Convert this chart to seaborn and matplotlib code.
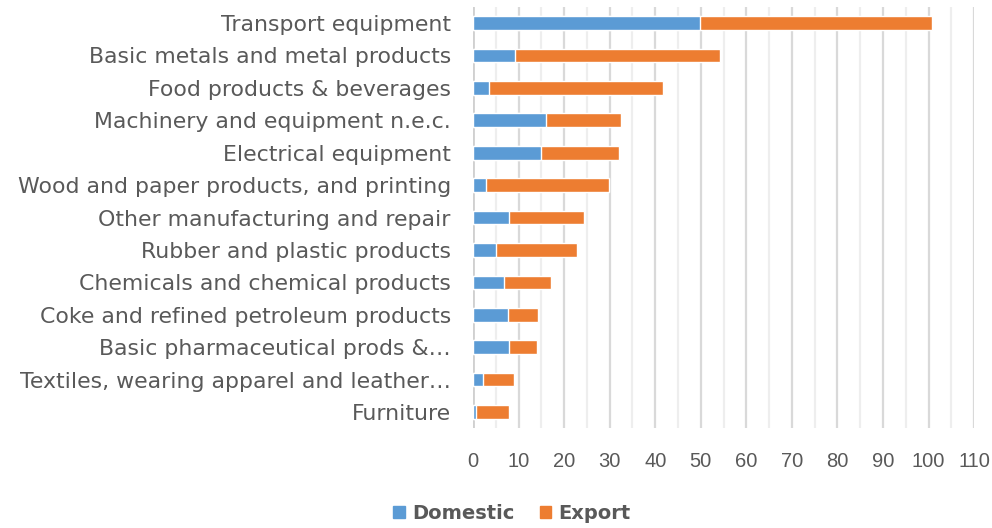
import matplotlib
matplotlib.use("Agg")
import matplotlib.pyplot as plt
from matplotlib.patches import Patch
from matplotlib.ticker import MultipleLocator
import seaborn as sns
import pandas as pd

sectors = [
    "Transport equipment",
    "Basic metals and metal products",
    "Food products & beverages",
    "Machinery and equipment n.e.c.",
    "Electrical equipment",
    "Wood and paper products, and printing",
    "Other manufacturing and repair",
    "Rubber and plastic products",
    "Chemicals and chemical products",
    "Coke and refined petroleum products",
    "Basic pharmaceutical prods &\u2026",
    "Textiles, wearing apparel and leather\u2026",
    "Furniture",
]
domestic = [49.8, 9.3, 3.5, 16.1, 15.0, 2.9, 8.0, 5.0, 6.7, 7.6, 8.0, 2.1, 0.7]
export = [50.9, 44.9, 38.2, 16.3, 17.1, 26.9, 16.3, 17.8, 10.5, 6.6, 6.0, 6.9, 7.3]

BLUE = "#5b9bd5"
ORANGE = "#ed7d31"
TEXT = "#595959"

df = pd.DataFrame({"sector": sectors, "Domestic": domestic, "Export": export})
df["Total"] = df["Domestic"] + df["Export"]

sns.set_theme(style="white")
plt.rcParams["font.family"] = ["DejaVu Sans"]

fig = plt.figure(figsize=(9.92, 5.28), dpi=100)
ax = fig.add_axes([0.4768, 0.189, 0.5052, 0.798])

# stacked bars: full total in orange, domestic share drawn over it in blue
sns.barplot(data=df, y="sector", x="Total", color=ORANGE, saturation=1,
            width=0.42, ax=ax, order=sectors, orient="h", zorder=3)
sns.barplot(data=df, y="sector", x="Domestic", color=BLUE, saturation=1,
            width=0.42, ax=ax, order=sectors, orient="h", zorder=4)

ax.set_xlim(0, 110)
ax.set_ylim(12.5, -0.5)
ax.xaxis.set_major_locator(MultipleLocator(10))
ax.xaxis.set_minor_locator(MultipleLocator(5))
ax.grid(axis="x", which="major", color="#d9d9d9", linewidth=1.6, zorder=0)
ax.grid(axis="x", which="minor", color="#eeeeee", linewidth=1.6, zorder=0)
ax.set_axisbelow(True)
for s in ax.spines.values():
    s.set_visible(False)
ax.axvline(0, color="#d0d0d0", linewidth=2, zorder=1)

ax.set_xlabel("")
ax.set_ylabel("")
ax.tick_params(axis="both", which="both", length=0, colors=TEXT)
ax.tick_params(axis="y", pad=16, labelsize=15.8)
ax.tick_params(axis="x", which="major", pad=17, labelsize=14.5,
               labelfontfamily="Liberation Sans")

handles = [Patch(color=BLUE, label="Domestic"), Patch(color=ORANGE, label="Export")]
leg = fig.legend(handles=handles, loc="center", bbox_to_anchor=(0.516, 0.028),
                 ncol=2, frameon=False, handlelength=0.6, handleheight=0.6,
                 handletextpad=0.35, columnspacing=1.3,
                 prop={"weight": "bold", "size": 14})
for t in leg.get_texts():
    t.set_color(TEXT)

fig.savefig("out.png", dpi=100)
